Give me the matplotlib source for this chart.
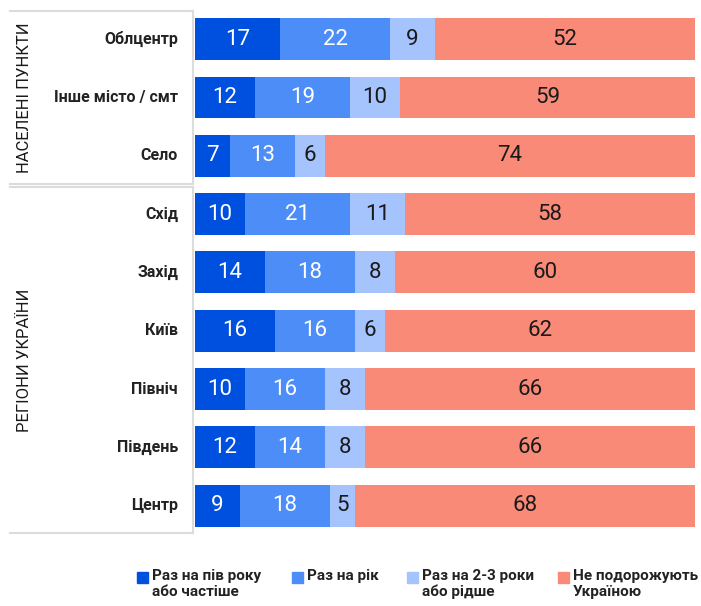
import matplotlib
matplotlib.use("Agg")
import matplotlib.pyplot as plt
import numpy as np
from matplotlib.lines import Line2D
from matplotlib.patches import Rectangle

plt.rcParams["font.family"] = ["Roboto", "DejaVu Sans"]

# ── Data ────────────────────────────────────────────────────
categories = ["Облцентр", "Інше місто / смт", "Село",
              "Схід", "Захід", "Київ", "Північ", "Південь", "Центр"]
half_year = [17, 12, 7, 10, 14, 16, 10, 12, 9]
yearly = [22, 19, 13, 21, 18, 16, 16, 14, 18]
rarely = [9, 10, 6, 11, 8, 6, 8, 8, 5]
never = [52, 59, 74, 58, 60, 62, 66, 66, 68]

series_labels = ["Раз на пів року\nабо частіше", "Раз на рік",
                 "Раз на 2-3 роки\nабо рідше", "Не подорожують\nУкраїною"]
group_labels = ["НАСЕЛЕНІ ПУНКТИ", "РЕГІОНИ УКРАЇНИ"]

COLOURS = ["#0050e0", "#4d8df8", "#a5c3fc", "#f98a78"]
TEXT_COL = ["white", "white", "#1a1a1a", "#1a1a1a"]

W, H = 701, 606
fig = plt.figure(figsize=(W / 100, H / 100), dpi=100, facecolor="white")


def fx(px):
    return px / W


def fy(py):
    return 1 - py / H


ax = fig.add_axes([fx(195), fy(535), fx(695) - fx(195), fy(10) - fy(535)])

y = np.arange(len(categories))
left = np.zeros(len(categories))
for vals, col, tcol in zip([half_year, yearly, rarely, never], COLOURS, TEXT_COL):
    vals = np.array(vals)
    ax.barh(y, vals, left=left, color=col, height=0.72, edgecolor="none")
    for yi, l, v in zip(y, left, vals):
        ax.text(l + v / 2, yi, str(v), ha="center", va="center",
                color=tcol, fontsize=16)
    left += vals

ax.set_xlim(0, 100)
ax.set_ylim(len(categories) - 0.5, -0.5)
ax.axis("off")

# category labels
for yi, cat in zip(y, categories):
    ax.text(-3.4, yi, cat, ha="right", va="center",
            fontsize=11.5, fontweight="bold", color="#222222")

# group brackets
line_col = "#dcdcdc"
for top, bottom, label in [(11, 184, group_labels[0]), (187, 533, group_labels[1])]:
    fig.add_artist(Line2D([fx(10), fx(193)], [fy(top), fy(top)], color=line_col, lw=1.5))
    fig.add_artist(Line2D([fx(10), fx(193)], [fy(bottom), fy(bottom)], color=line_col, lw=1.5))
    fig.add_artist(Line2D([fx(193), fx(193)], [fy(top), fy(bottom)], color=line_col, lw=1.5))
    fig.text(fx(25), fy((top + bottom) / 2), label, rotation=90,
             ha="center", va="center", fontsize=12, color="#1a1a1a")

# legend
legend_x = [137, 292, 407, 558]
for lx, col, lab in zip(legend_x, COLOURS, series_labels):
    fig.add_artist(Rectangle((fx(lx), fy(583)), fx(11), fy(0) - fy(11),
                             color=col, transform=fig.transFigure))
    fig.text(fx(lx + 15), fy(569), lab, ha="left", va="top",
             fontsize=11, fontweight="bold", color="#222222",
             linespacing=1.15)

fig.savefig("out.png", dpi=100, facecolor="white")
